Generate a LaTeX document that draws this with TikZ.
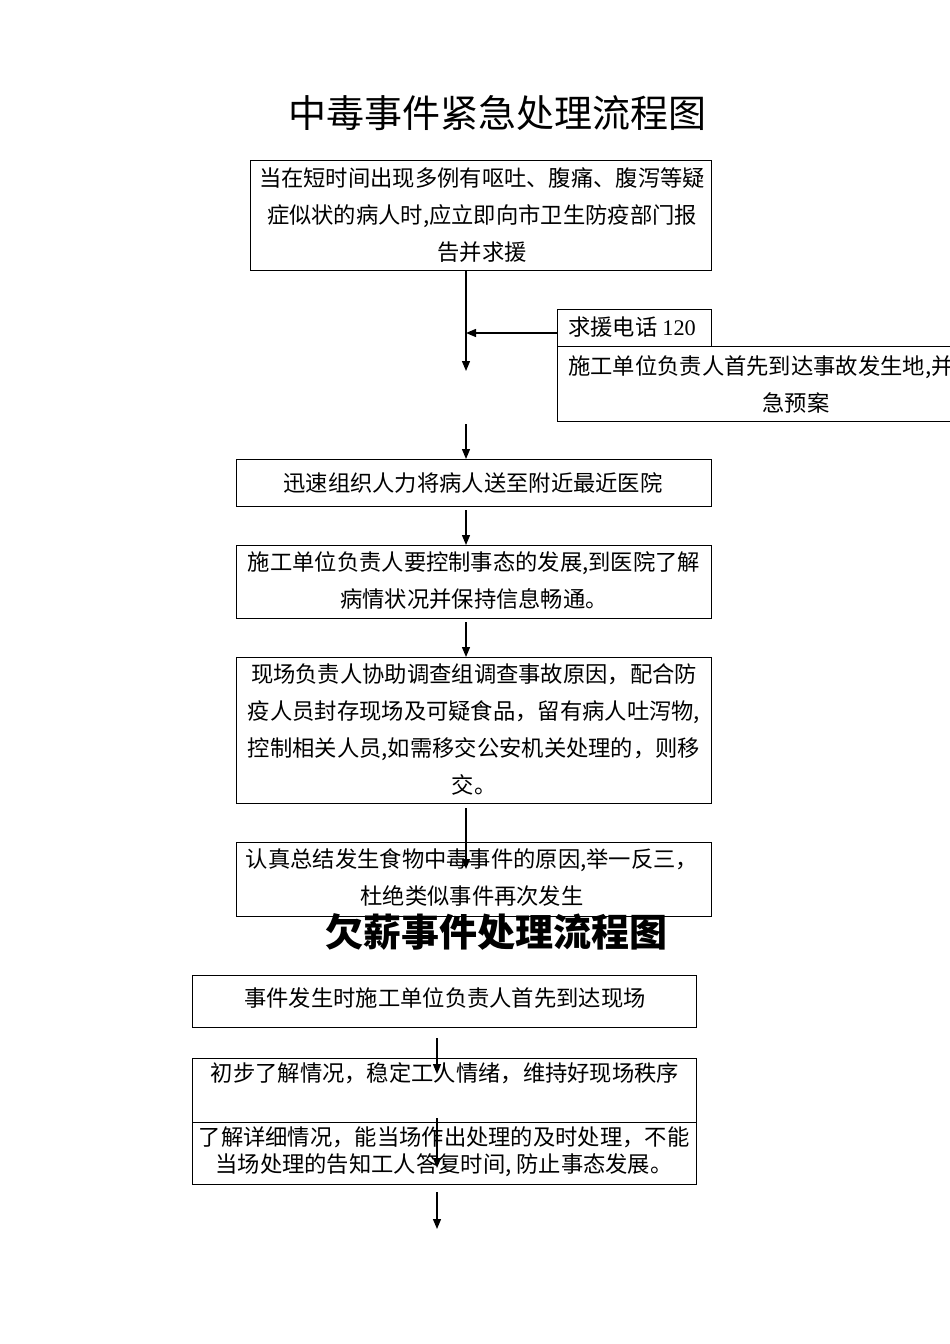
\documentclass[tikz,border=0pt]{standalone}
\usepackage{fontspec}
\setmainfont{Noto Sans CJK SC}
\newfontfamily\tms{Liberation Serif}
\usetikzlibrary{arrows.meta}
\begin{document}
\begin{tikzpicture}[x=1pt,y=-1pt,
  box/.style={draw, line width=0.9pt, inner sep=0pt, anchor=north west},
  txt/.style={font=\fontsize{22.3}{37}\selectfont, align=center, inner sep=0pt},
  ttl/.style={font=\fontsize{38}{40}\selectfont, inner sep=0pt},
  arr/.style={-{Triangle[length=10pt,width=8pt]}, line width=1.3pt}]
\useasboundingbox (0,0) rectangle (950,1344);
\clip (0,0) rectangle (950,1344);
% titles
\node[ttl] (title1) at (497,113) {中毒事件紧急处理流程图};
\node[ttl, font=\fontsize{38}{40}\selectfont\bfseries] (title2) at (496,932) {欠薪事件处理流程图};
% boxes part 1
\node[box, minimum width=461, minimum height=110] (b1) at (250,160) {};
\node[box, minimum width=154, minimum height=37] (b2a) at (557,309) {};
\node[box, minimum width=483, minimum height=75] (b2b) at (557,346) {};
\node[box, minimum width=475, minimum height=47] (b3) at (236,459) {};
\node[box, minimum width=475, minimum height=73] (b4) at (236,545) {};
\node[box, minimum width=475, minimum height=146] (b5) at (236,657) {};
\node[box, minimum width=475, minimum height=74] (b6) at (236,842) {};
% boxes part 2
\node[box, minimum width=504, minimum height=52] (b7) at (192,975) {};
\node[box, minimum width=504, minimum height=64] (b8) at (192,1058) {};
\node[box, minimum width=504, minimum height=62] (b9) at (192,1122) {};
% texts
\node[txt] (t1) at (482,215) {当在短时间出现多例有呕吐、腹痛、腹泻等疑\\症似状的病人时,应立即向市卫生防疫部门报\\告并求援};
\node[txt, anchor=west] (t2a) at (568,327) {求援电话 {\tms 120}};
\node[txt, anchor=west] (t2b) at (568,367) {施工单位负责人首先到达事故发生地,并};
\node[txt] (t2c) at (796,403) {急预案};
\node[txt] (t3) at (473,483) {迅速组织人力将病人送至附近最近医院};
\node[txt] (t4) at (474,581) {施工单位负责人要控制事态的发展,到医院了解\\病情状况并保持信息畅通。};
\node[txt] (t5) at (474,729.5) {现场负责人协助调查组调查事故原因，配合防\\疫人员封存现场及可疑食品，留有病人吐泻物,\\控制相关人员,如需移交公安机关处理的，则移\\交。};
\node[txt] (t6) at (472,877.5) {认真总结发生食物中毒事件的原因,举一反三，\\杜绝类似事件再次发生};
\node[txt] (t7) at (445,998) {事件发生时施工单位负责人首先到达现场};
\node[txt] (t8) at (445,1073) {初步了解情况，稳定工人情绪，维持好现场秩序};
\node[txt, font=\fontsize{22.3}{27}\selectfont] (t9) at (444,1151.5) {了解详细情况，能当场作出处理的及时处理，不能\\当场处理的告知工人答复时间, 防止事态发展。};
% connector ends
\coordinate (a1s) at (466,270); \coordinate (a1e) at (466,371);
\coordinate (a2s) at (557,333); \coordinate (a2e) at (466,333);
\coordinate (a3s) at (466,424); \coordinate (a3e) at (466,459);
\coordinate (a4s) at (466,510); \coordinate (a4e) at (466,545);
\coordinate (a5s) at (466,622); \coordinate (a5e) at (466,657);
\coordinate (a6s) at (466,808); \coordinate (a6e) at (466,869);
\coordinate (a7s) at (437,1038); \coordinate (a7e) at (437,1074);
\coordinate (a8s) at (437,1118); \coordinate (a8e) at (437,1168);
\coordinate (a9s) at (437,1192); \coordinate (a9e) at (437,1229);
\draw[arr] (a1s) -- (a1e);
\draw[arr] (a2s) -- (a2e);
\draw[arr] (a3s) -- (a3e);
\draw[arr] (a4s) -- (a4e);
\draw[arr] (a5s) -- (a5e);
\draw[arr] (a6s) -- (a6e);
\draw[arr] (a7s) -- (a7e);
\draw[arr] (a8s) -- (a8e);
\draw[arr] (a9s) -- (a9e);
\end{tikzpicture}
\end{document}
